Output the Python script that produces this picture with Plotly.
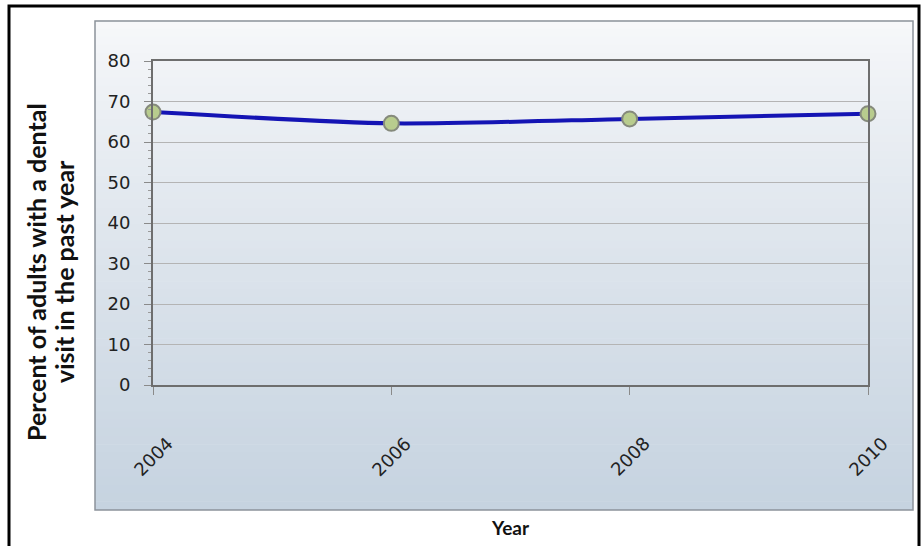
import plotly.graph_objects as go

# Share of adults reporting a dental visit in the past year
years = ["2004", "2006", "2008", "2010"]
pct_dental_visit = [67.4, 64.6, 65.7, 67.0]
y_ticks = [0, 10, 20, 30, 40, 50, 60, 70, 80]
y_title_lines = ["Percent of adults with a dental", "visit in the past year"]

W, H = 922, 546
L, R, T, B = 153, 54, 61, 161
pw, ph = W - L - R, H - T - B


def px_x(x):
    return (x - L) / pw


def px_y(y):
    return (H - B - y) / ph


fig = go.Figure()
fig.add_trace(go.Scatter(
    x=[0, 1, 2, 3], y=pct_dental_visit,
    mode="lines+markers",
    line=dict(color="#1414b4", width=4, shape="spline", smoothing=0.7),
    marker=dict(size=15, color="#b8cc8e", line=dict(color="#858a7c", width=2)),
    cliponaxis=False, showlegend=False,
))

shapes = []
# gradient panel behind the chart, built from thin horizontal strips
top, bot = 21, 510
n = 60
c0 = (247, 248, 250)
c1 = (198, 211, 224)
for i in range(n):
    f = (i / (n - 1)) ** 0.85
    col = tuple(round(c0[k] + (c1[k] - c0[k]) * f) for k in range(3))
    y0 = top + (bot - top) * i / n
    y1 = top + (bot - top) * (i + 1) / n
    shapes.append(dict(type="rect", xref="paper", yref="paper", layer="below",
                       x0=px_x(95), x1=px_x(913), y0=px_y(y1), y1=px_y(y0) + 0.002,
                       fillcolor="rgb(%d,%d,%d)" % col, line=dict(width=0)))
shapes.append(dict(type="rect", xref="paper", yref="paper", layer="below",
                   x0=px_x(95), x1=px_x(913), y0=px_y(bot), y1=px_y(top),
                   line=dict(color="#8c939b", width=1.5)))
# outer frame
shapes.append(dict(type="rect", xref="paper", yref="paper", layer="above",
                   x0=px_x(9), x1=px_x(919), y0=px_y(560), y1=px_y(6),
                   line=dict(color="#000000", width=3)))

annotations = []
# vertical axis title, one annotation per line
for line_text, xc in zip(y_title_lines, [36, 64]):
    annotations.append(dict(
        text="<b>%s</b>" % line_text,
        xref="paper", yref="paper", x=px_x(xc), y=px_y(272),
        xanchor="center", yanchor="middle",
        textangle=-90, showarrow=False,
        font=dict(family="Lato", size=25, color="#111111")))
annotations.append(dict(
    text="<b>Year</b>", xref="paper", yref="paper",
    x=px_x(510), y=px_y(527), xanchor="center", yanchor="middle",
    showarrow=False,
    font=dict(family="Lato", size=19, color="#111111")))
# rotated year labels centred under each tick
for i, yr in enumerate(years):
    annotations.append(dict(
        text=yr, xref="x", yref="paper", x=i, y=px_y(456),
        xanchor="center", yanchor="middle", textangle=-45, showarrow=False,
        font=dict(family="DejaVu Sans", size=18, color="#222222")))

fig.update_layout(
    width=W, height=H,
    margin=dict(l=L, r=R, t=T, b=B),
    paper_bgcolor="white", plot_bgcolor="white",
    shapes=shapes,
    annotations=annotations,
    xaxis=dict(
        range=[0, 3], tickvals=[0, 1, 2, 3], showticklabels=False,
        ticks="outside", ticklen=8, tickcolor="#8a8a8a",
        showgrid=False, zeroline=False,
        showline=True, linecolor="#6e6e6e", linewidth=2, mirror=True,
    ),
    yaxis=dict(
        range=[0, 80], tickvals=y_ticks,
        ticks="outside", ticklen=7, tickcolor="#8a8a8a",
        tickfont=dict(family="DejaVu Sans", size=18, color="#222222"),
        ticklabelstandoff=10,
        showgrid=True, gridcolor="#b4b4b4", gridwidth=1,
        minor=dict(dtick=2, ticks="outside", ticklen=3, tickcolor="#9a9a9a", showgrid=False),
        zeroline=False,
        showline=True, linecolor="#6e6e6e", linewidth=2, mirror=True,
    ),
)

fig.write_html("out.html")
